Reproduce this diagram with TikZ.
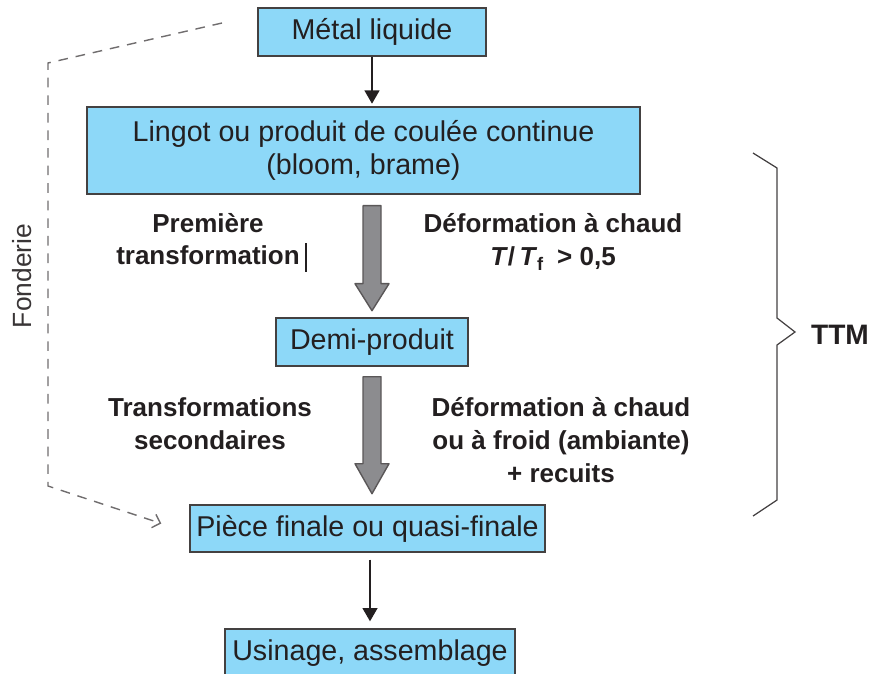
\documentclass[tikz,border=0pt]{standalone}
\usepackage{fontspec}
\setmainfont{Liberation Sans}
\usepackage{tikz}
\usetikzlibrary{arrows.meta}
\definecolor{boxblue}{RGB}{141,216,248}
\definecolor{ink}{RGB}{35,31,32}
\definecolor{arrowgray}{RGB}{140,140,143}

\begin{document}
\begin{tikzpicture}[x=0.02cm,y=-0.02cm,font=\fontsize{16.3}{18.8}\selectfont,
  etape/.style={draw=ink!85,line width=0.8pt,fill=boxblue,text=ink,minimum height=0.96cm,inner sep=0pt},
  fleche/.style={draw=ink,line width=0.7pt,-{Triangle[length=7.5pt,width=8.5pt]}},
  grosse/.style={draw=ink!75,fill=arrowgray,line width=0.8pt,line join=round},
  lbl/.style={font=\fontsize{14.8}{18.6}\selectfont\bfseries,text=ink,align=center},
  fonte/.style={draw=ink!65,line width=0.8pt,dash pattern=on 5.5pt off 4.5pt}]
\useasboundingbox (0,0) rectangle (872,673);

% boites
\node[etape,minimum width=4.56cm] (metal) at (372,32) {Métal liquide};
\node[etape,minimum width=11.06cm,minimum height=1.74cm,align=center] (lingot) at (363.5,150.5) {Lingot ou produit de coulée continue\\(bloom, brame)};
\node[etape,minimum width=3.84cm] (demi) at (372,342) {Demi-produit};
\node[etape,minimum width=7.1cm,minimum height=0.94cm] (piece) at (367.5,528.5) {Pièce finale ou quasi-finale};
\node[etape,minimum width=5.8cm] (usinage) at (370,653) {Usinage, assemblage};

% fleches
\draw[fleche,shorten >=1.5pt] (metal.south) -- (metal.south |- lingot.north);
\draw[fleche,shorten <=4pt,shorten >=4pt] (usinage.north |- piece.south) -- (usinage.north);
\draw[grosse] (demi.north |- lingot.south) ++(-9,11) -- ++(0,78) -- ++(-8,0) -- ++(17,27) -- ++(17,-27) -- ++(-8,0) -- ++(0,-78) -- cycle;
\draw[grosse] (demi.south) ++(-9,10) -- ++(0,87) -- ++(-8,0) -- ++(17,30) -- ++(17,-30) -- ++(-8,0) -- ++(0,-87) -- cycle;

% textes
\node[lbl] (premiere) at (208,239) {Première\\transformation};
\draw[ink,line width=0.6pt] (306,243) -- (306,272);
\node[lbl] (chaud) at (553,242) {Déformation à chaud\\\textit{T}/\,\textit{T}\textsubscript{f}\enspace> 0,5};
\node[lbl] (secondaires) at (210,424) {Transformations\\secondaires};
\node[lbl] (froid) at (561,440) {Déformation à chaud\\ou à froid (ambiante)\\+ recuits};

% accolade
\draw[ink!85,line width=0.7pt] (753,153) -- (777,168) -- (777,318) -- (795,332) -- (777,345) -- (777,500) -- (753,516);
\node[lbl,font=\fontsize{16}{18}\selectfont\bfseries] (ttm) at (840,335) {TTM};

% fonderie
\coordinate (coulee) at (222,23);
\draw[fonte,-{Straight Barb[length=4pt,width=8pt]}] (coulee) -- (48,63) -- (48,486) -- ([shift={(-28,-5)}]piece.west);
\node[rotate=90,text=ink!90,font=\fontsize{15}{18}\selectfont] (fonderie) at (22,276) {Fonderie};
\end{tikzpicture}
\end{document}
